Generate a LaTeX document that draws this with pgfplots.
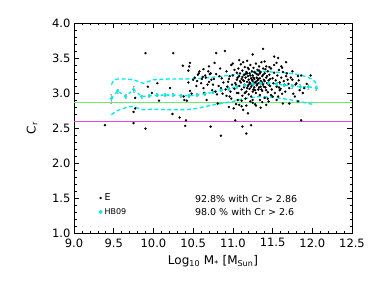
\documentclass[border=0pt]{standalone}
\usepackage{fontspec}
\setmainfont{DejaVu Sans}
\usepackage{pgfplots}
\pgfplotsset{compat=1.18}
\definecolor{cy}{RGB}{0,235,235}
\definecolor{lgreen}{RGB}{110,235,110}
\definecolor{lmag}{RGB}{230,70,230}
\begin{document}
\begin{tikzpicture}
\begin{axis}[
  scale only axis, width=278pt, height=210pt,
  xmin=9, xmax=12.5, ymin=1, ymax=4,
  xtick={9,9.5,10,10.5,11,11.5,12,12.5},
  ytick={1,1.5,2,2.5,3,3.5,4},
  minor tick num=4,
  tick align=inside,
  major tick length=5pt, minor tick length=2.5pt,
  tick style={black, line width=0.6pt},
  axis line style={line width=0.8pt},
  ticklabel style={font=\fontsize{11.5}{13}\selectfont},
  xticklabel style={yshift=-2pt},
  label style={font=\fontsize{12}{14}\selectfont},
  xlabel style={yshift=-1pt},
  ylabel style={yshift=8pt},
  /pgf/number format/.cd, fixed, fixed zerofill, precision=1, assume math mode=true,
  /pgfplots/.cd,
  xlabel={Log\textsubscript{10} M\textsubscript{*} [M\textsubscript{Sun}]},
  ylabel={C\textsubscript{r}},
  legend style={at={(axis cs:9.27,1.62)}, anchor=north west, draw=none, fill=none,
    font=\fontsize{9.5}{11}\selectfont, row sep=2pt},
  legend cell align=left,
]
% reference lines
\addplot[lmag, mark=none, line width=0.8pt, forget plot] coordinates {(9,2.6) (12.5,2.6)};
\addplot[lgreen, mark=none, line width=0.8pt, forget plot] coordinates {(9,2.86) (12.5,2.86)};
% E galaxies
\addplot[only marks, mark=*, mark size=1pt, black, legend image code/.code={\fill[black] (0.15cm,0) circle (1pt);}] coordinates {
(9.39,2.54)(9.75,2.57)(9.75,2.73)(9.77,2.78)(9.77,2.93)
(9.90,3.57)(9.90,2.49)(9.93,3.09)(9.98,3.00)
(10.05,3.14)(10.07,2.89)
(10.21,3.07)(10.25,3.57)(10.24,2.70)
(10.33,2.65)(10.37,3.39)(10.38,2.95)(10.39,2.90)(10.40,2.53)(10.41,2.61)
(10.42,2.89)(10.44,3.32)(10.45,3.38)(10.46,3.43)(10.44,3.15)(10.46,3.03)(10.48,2.99)
(10.50,3.19)(10.54,3.10)(10.56,3.26)(10.58,3.31)(10.62,3.23)(10.60,3.14)(10.63,3.07)
(10.67,2.90)(10.69,3.31)(10.71,3.27)(10.75,3.12)(10.77,3.43)(10.78,3.02)(10.73,3.19)
(10.72,2.52)(10.79,3.57)(10.81,2.85)(10.83,3.24)(10.85,3.07)(10.87,2.99)(10.84,3.35)
(10.85,2.39)(10.90,3.60)(10.92,3.31)(10.94,3.16)(10.95,2.80)(10.96,2.95)(10.91,3.05)(10.98,3.40)(10.96,3.24)
(11.00,3.42)(11.02,3.33)(11.03,2.61)(11.04,3.12)(11.05,3.00)(11.06,2.90)(11.01,2.78)(11.08,3.24)(11.08,3.47)(11.05,3.19)
(11.12,2.52)(11.17,2.42)(11.23,2.54)(11.38,3.63)(11.25,3.55)(11.57,3.50)(11.67,3.44)(11.86,2.61)(11.86,3.25)(11.98,3.25)
(11.75,3.31)(11.71,3.07)(11.78,2.95)(11.82,2.88)(11.71,2.85)(11.63,2.85)(11.69,3.19)(11.61,3.38)(11.55,3.43)(11.52,3.52)
(11.40,3.45)(11.42,2.83)(11.29,2.82)(11.19,2.71)(11.13,2.76)(11.11,2.81)(11.25,2.90)(11.34,2.90)(11.45,2.88)(11.50,2.95)
(11.59,3.04)(11.65,3.12)(11.80,3.14)(11.84,3.04)(11.90,3.07)(11.82,3.24)(11.75,3.19)(11.67,3.24)
(11.06,3.22)(11.07,3.35)(11.08,3.10)(11.09,3.28)(11.10,3.15)(11.10,3.41)(11.11,3.05)(11.11,3.20)(11.12,3.32)(11.12,2.96)
(11.13,3.18)(11.13,3.44)(11.14,3.26)(11.14,3.08)(11.15,3.12)(11.15,3.37)(11.16,3.22)(11.16,2.92)(11.17,3.30)(11.17,3.02)
(11.18,3.16)(11.18,3.46)(11.19,3.24)(11.19,3.10)(11.20,3.34)(11.20,2.98)(11.20,3.19)(11.21,3.28)(11.21,3.06)(11.22,3.14)
(11.22,3.40)(11.23,3.21)(11.23,2.95)(11.24,3.31)(11.24,3.11)(11.25,3.17)(11.25,3.25)(11.25,3.02)(11.26,3.36)(11.26,3.13)
(11.27,3.20)(11.27,3.08)(11.28,3.29)(11.28,3.15)(11.29,3.42)(11.29,3.00)(11.30,3.22)(11.30,3.11)(11.31,3.33)(11.31,3.18)
(11.32,3.05)(11.32,3.26)(11.33,3.14)(11.33,3.38)(11.34,3.21)(11.34,2.97)(11.35,3.30)(11.35,3.09)(11.36,3.16)(11.36,3.44)
(11.37,3.24)(11.37,3.03)(11.38,3.35)(11.38,3.12)(11.39,3.19)(11.40,3.28)(11.40,2.93)(11.41,3.08)(11.42,3.22)(11.42,3.38)
(11.43,3.14)(11.44,3.31)(11.44,3.01)(11.45,3.18)(11.46,3.26)(11.47,3.10)(11.48,3.35)(11.49,3.05)(11.50,3.21)(11.51,3.14)
(11.52,3.29)(11.53,3.00)(11.54,3.18)(11.55,3.09)(11.56,3.25)(11.57,2.95)(11.58,3.33)(11.59,3.15)(11.60,3.06)(11.61,3.22)
(11.62,2.99)(11.63,3.30)(11.64,3.17)
(11.12,3.23)(11.14,3.17)(11.16,3.27)(11.18,3.07)(11.19,3.36)(11.21,3.15)(11.22,3.25)(11.23,3.09)(11.24,3.19)(11.26,3.22)
(11.27,3.30)(11.28,3.04)(11.29,3.16)(11.30,3.27)(11.31,3.13)(11.32,3.20)(11.33,3.08)(11.34,3.28)(11.35,3.17)(11.36,3.05)
(11.37,3.14)(11.38,3.26)(11.39,3.09)(11.40,3.17)(11.41,3.34)(11.42,3.04)(11.43,3.24)(11.45,3.12)(11.46,3.37)(11.47,3.20)
(11.20,3.12)(11.18,3.28)(11.26,3.05)(11.33,3.32)(11.15,3.00)(11.09,3.17)(11.07,3.00)(11.05,3.29)(11.03,3.14)(11.02,3.06)
(11.00,3.25)(10.99,3.12)(10.97,3.02)(10.95,3.20)(10.93,3.09)(10.92,2.96)(10.88,3.15)(10.86,3.21)(10.82,3.10)(10.80,2.98)
(10.79,3.27)(10.76,3.20)(10.74,3.04)(10.70,3.16)(10.66,3.22)(10.64,3.00)(11.48,2.97)(11.52,3.40)(11.55,2.90)(11.58,3.08)
(11.62,3.36)(11.66,3.02)(11.68,3.28)(11.70,3.13)(11.73,3.22)(11.76,2.99)(11.79,3.12)(11.83,3.18)(11.88,3.00)(11.93,3.13)
(11.25,2.86)(11.28,2.84)(11.22,2.88)(11.37,2.87)(11.44,2.92)(11.11,2.89)(11.08,2.83)(11.04,2.84)(10.98,2.92)(11.35,2.79)(11.17,2.82)
(10.52,3.22)(10.55,3.17)(10.57,3.28)(10.61,3.20)(10.63,3.34)(10.65,3.25)(10.68,3.12)(10.70,3.38)(10.72,3.28)
};
\addlegendentry{E}
% HB09 envelopes
\addplot[cy, line width=1.3pt, dash pattern=on 4pt off 2.5pt, forget plot] coordinates {
(9.47,3.12)(9.50,3.18)(9.55,3.20)(9.65,3.20)(9.75,3.19)(9.82,3.16)(9.87,3.14)(9.93,3.16)(10.0,3.19)(10.2,3.20)(10.4,3.20)(10.6,3.21)(10.8,3.23)(11.0,3.26)(11.2,3.29)(11.35,3.31)(11.5,3.30)(11.65,3.29)(11.85,3.26)(12.0,3.20)(12.05,3.14)(12.06,3.09)};
\addplot[cy, line width=1.3pt, dash pattern=on 4pt off 2.5pt, forget plot] coordinates {
(9.47,2.69)(9.55,2.75)(9.65,2.79)(9.72,2.81)(9.79,2.79)(9.87,2.76)(10.0,2.77)(10.2,2.76)(10.4,2.76)(10.55,2.78)(10.67,2.81)(10.85,2.85)(11.0,2.88)(11.15,2.92)(11.33,2.95)(11.5,2.94)(11.63,2.92)(11.84,2.88)(11.95,2.85)(12.0,2.84)};
\addplot[cy, line width=1.3pt, dash pattern=on 3pt off 3pt, forget plot] coordinates {
(9.47,2.92)(9.55,3.03)(9.65,2.95)(9.75,3.05)(9.85,2.95)(9.95,2.96)(10.05,2.97)(10.15,2.97)(10.25,2.97)(10.35,2.96)(10.45,2.96)(10.55,2.97)(10.65,2.99)(10.75,3.01)(10.85,3.04)(10.95,3.06)(11.05,3.09)(11.15,3.11)(11.25,3.13)(11.35,3.14)(11.45,3.14)(11.55,3.13)(11.65,3.11)(11.75,3.10)(11.85,3.09)(11.95,3.09)(12.05,3.07)};
% HB09 medians with error bars
\addplot[only marks, mark=*, mark size=1.4pt, cy,
  legend image code/.code={\fill[cy] (0.15cm,0) circle (1.8pt);},
  error bars/.cd, y dir=both, y explicit, error bar style={gray!60, line width=0.6pt}, error mark options={gray!60, mark size=1pt, rotate=90}]
  coordinates {
(9.47,2.92) +- (0,0.06)
(9.55,3.03) +- (0,0.03)
(9.65,2.95) +- (0,0.03)
(9.75,3.05) +- (0,0.04)
(9.85,2.95) +- (0,0.02)
(9.95,2.96) +- (0,0.02)
(10.05,2.97) +- (0,0.02)
(10.15,2.97) +- (0,0.02)
(10.25,2.97) +- (0,0.02)
(10.35,2.96) +- (0,0.02)
(10.45,2.96) +- (0,0.02)
(10.55,2.97) +- (0,0.02)
(10.65,2.99) +- (0,0.02)
(10.75,3.01) +- (0,0.02)
(10.85,3.04) +- (0,0.02)
(10.95,3.06) +- (0,0.02)
(11.05,3.09) +- (0,0.02)
(11.15,3.11) +- (0,0.02)
(11.25,3.13) +- (0,0.02)
(11.35,3.14) +- (0,0.02)
(11.45,3.14) +- (0,0.02)
(11.55,3.13) +- (0,0.02)
(11.65,3.11) +- (0,0.02)
(11.75,3.10) +- (0,0.03)
(11.85,3.09) +- (0,0.03)
(11.95,3.09) +- (0,0.03)
(12.05,3.07) +- (0,0.03)
};
\addlegendentry{\fontsize{8}{10}\selectfont HB09}
\node[anchor=west, font=\fontsize{9.5}{11}\selectfont] at (axis cs:10.48,1.49) {92.8\% with Cr > 2.86};
\node[anchor=west, font=\fontsize{9.5}{11}\selectfont] at (axis cs:10.48,1.30) {98.0 \% with Cr > 2.6};
\end{axis}
\pgfresetboundingbox
\path ([shift={(-74pt,-48pt)}]current axis.south west) rectangle ([shift={(22pt,23pt)}]current axis.north east);
\end{tikzpicture}
\end{document}
